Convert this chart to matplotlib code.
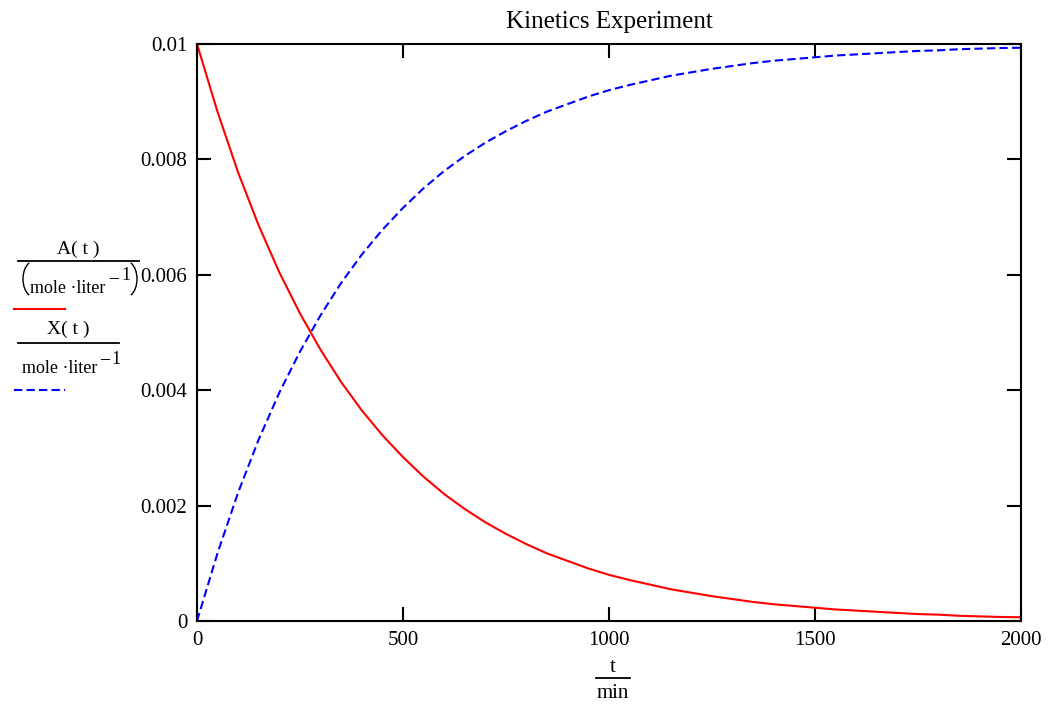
import matplotlib.pyplot as plt
from matplotlib.lines import Line2D
from matplotlib.patches import Arc

plt.rcParams['font.family'] = ['Liberation Serif', 'DejaVu Serif']

# time in minutes, every 50 min
t_min = list(range(0, 2001, 50))

# A(t), mole/liter (red solid)
conc_A = [0.01, 0.00882, 0.00777, 0.00685, 0.00604, 0.00533, 0.00470, 0.00414,
          0.00365, 0.00322, 0.00284, 0.00250, 0.00220, 0.00194, 0.00171, 0.00151,
          0.00133, 0.00117, 0.00104, 0.00091, 0.00080, 0.00071, 0.00063, 0.00055,
          0.00049, 0.00043, 0.00038, 0.00033, 0.00029, 0.00026, 0.00023, 0.00020,
          0.00018, 0.00016, 0.00014, 0.00012, 0.00011, 0.00009, 0.00008, 0.00007,
          0.000065]

# X(t), mole/liter (blue dashed)
conc_X = [0.0, 0.00118, 0.00223, 0.00315, 0.00396, 0.00467, 0.00530, 0.00586,
          0.00635, 0.00678, 0.00716, 0.00750, 0.00780, 0.00806, 0.00829, 0.00849,
          0.00867, 0.00883, 0.00896, 0.00909, 0.00920, 0.00929, 0.00937, 0.00945,
          0.00951, 0.00957, 0.00962, 0.00967, 0.00971, 0.00974, 0.00977, 0.00980,
          0.00982, 0.00984, 0.00986, 0.00988, 0.00989, 0.00991, 0.00992, 0.00993,
          0.009935]

x_ticks = [0, 500, 1000, 1500, 2000]
y_ticks = [0, 0.002, 0.004, 0.006, 0.008, 0.01]
y_tick_labels = ['0', '0.002', '0.004', '0.006', '0.008', '0.01']

W, H = 1049, 706
DASH = (0, (4, 2))


def px(x, y):
    # pixel position (from top left) to figure fraction
    return x / W, 1 - y / H


def hline(x0, x1, y, **kw):
    fig.add_artist(Line2D([x0 / W, x1 / W], [1 - y / H] * 2, **kw))


def paren(cx, cy, left):
    # thin Mathcad-like bracket drawn as an elliptical arc, pixel units
    t1, t2 = (110, 250) if left else (-70, 70)
    fig.add_artist(Arc((cx / 100, (H - cy) / 100), 24 / 100, 37 / 100,
                       theta1=t1, theta2=t2, transform=fig.dpi_scale_trans,
                       color='black', lw=1.0))


fig = plt.figure(figsize=(W / 100, H / 100), dpi=100)
ax = fig.add_axes([197 / W, 1 - 621 / H, (1021 - 197) / W, (621 - 44) / H])

ax.plot(t_min, conc_A, color='red', lw=1.5)
ax.plot(t_min, conc_X, color='blue', lw=1.5, ls=DASH)

ax.set_xlim(0, 2000)
ax.set_ylim(0, 0.01)
ax.set_xticks(x_ticks)
ax.set_xticklabels([str(v) for v in x_ticks])
ax.set_yticks(y_ticks)
ax.set_yticklabels(y_tick_labels)
ax.tick_params(direction='in', length=10, width=1.5, labelsize=15,
               top=True, right=True, color='black', pad=7)
for s in ax.spines.values():
    s.set_linewidth(1.5)

fig.text(*px(609, 22), 'Kinetics Experiment', ha='center', va='center', fontsize=18)

# y label, Mathcad style stacked fractions with line samples
fs = 13
fig.text(*px(78, 254), 'A( t )', ha='center', va='baseline', fontsize=14)
hline(18, 139, 261, color='black', lw=1.3)
paren(35, 279, True)
fig.text(*px(30, 293), 'mole \u00b7liter', ha='left', va='baseline', fontsize=fs)
fig.text(*px(109, 283), '\u2013', ha='left', va='baseline', fontsize=fs, fontweight='bold')
fig.text(*px(121, 280), '1', ha='left', va='baseline', fontsize=fs)
paren(125, 279, False)
hline(14, 65, 309, color='red', lw=1.5)

fig.text(*px(68, 334), 'X( t )', ha='center', va='baseline', fontsize=14)
hline(18, 119, 343, color='black', lw=1.3)
fig.text(*px(22, 373), 'mole \u00b7liter', ha='left', va='baseline', fontsize=fs)
fig.text(*px(100, 364), '\u2013', ha='left', va='baseline', fontsize=fs, fontweight='bold')
fig.text(*px(111, 364), '1', ha='left', va='baseline', fontsize=fs)
hline(14, 65, 390, color='blue', lw=1.5, ls=DASH)

# x label
fig.text(*px(613, 672), 't', ha='center', va='baseline', fontsize=15)
hline(596, 630, 678, color='black', lw=1.3)
fig.text(*px(613, 698), 'min', ha='center', va='baseline', fontsize=15)

fig.savefig('out.png', dpi=100)
